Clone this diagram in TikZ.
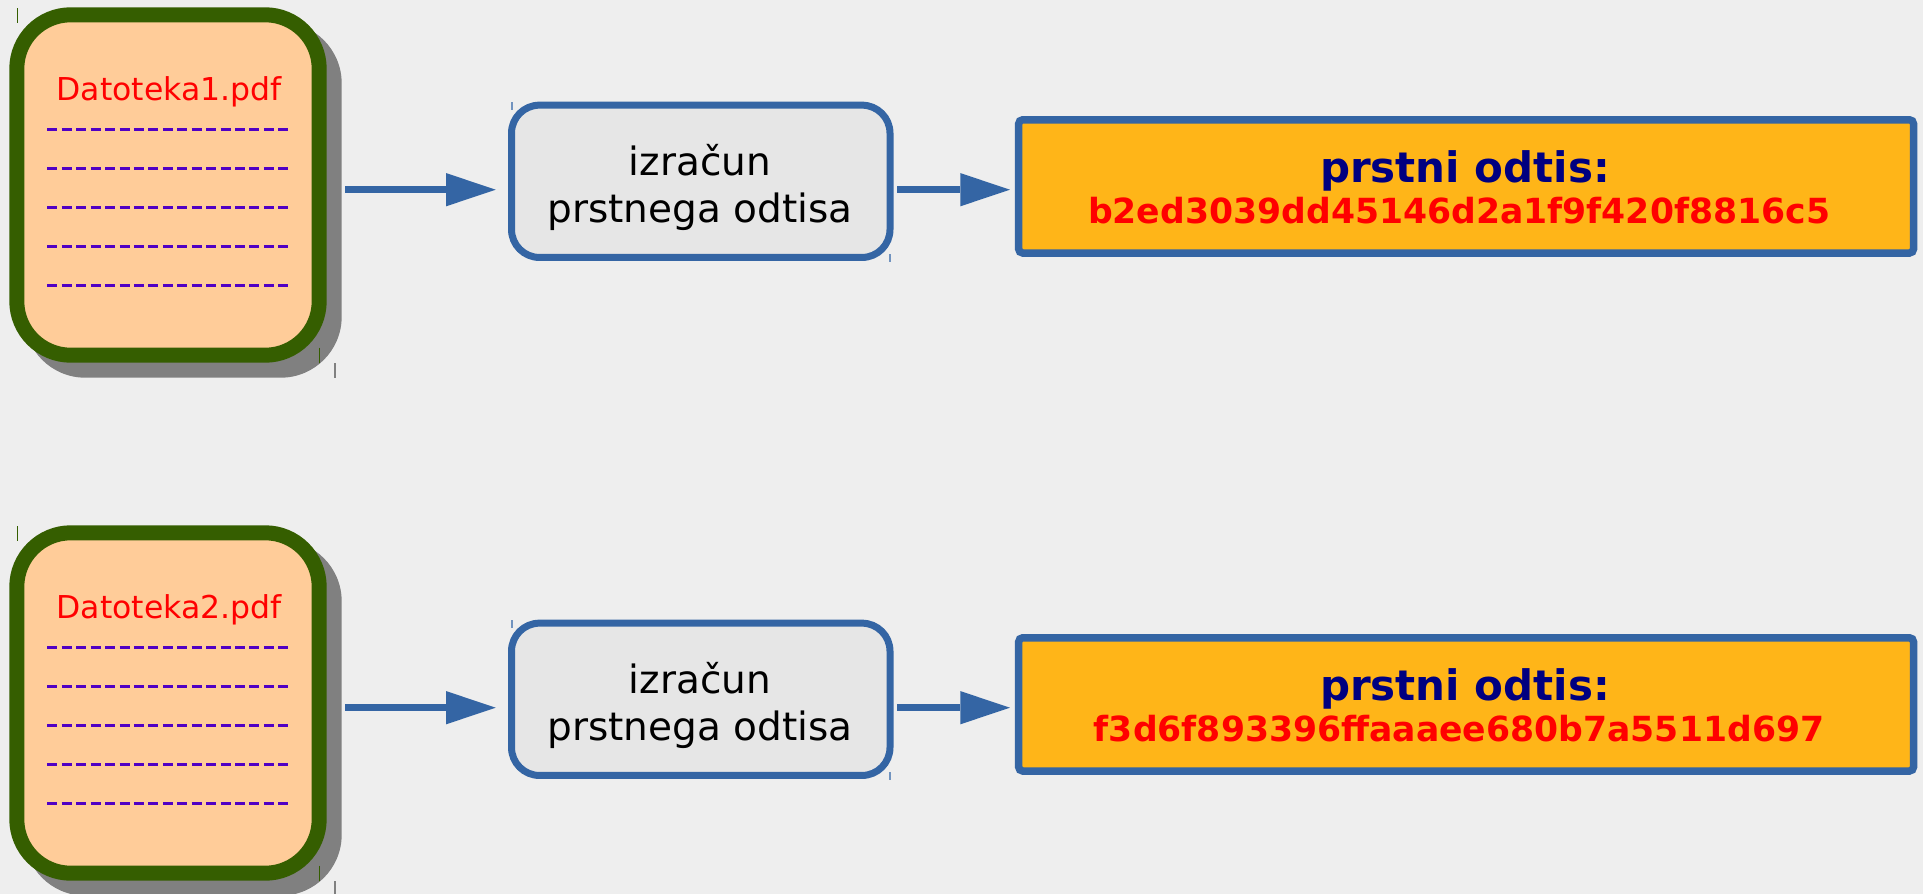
\documentclass[tikz,border=0pt]{standalone}
\usepackage{fontspec}
\setmainfont{DejaVu Sans}
\usetikzlibrary{arrows.meta,calc}
\definecolor{bgc}{HTML}{EEEEEE}
\definecolor{peach}{HTML}{FFCC99}
\definecolor{docgreen}{HTML}{355E00}
\definecolor{shadowc}{HTML}{808080}
\definecolor{dashc}{HTML}{5000C4}
\definecolor{blueb}{HTML}{3465A4}
\definecolor{procgray}{HTML}{E6E6E6}
\definecolor{goldc}{HTML}{FFB518}
\definecolor{navyc}{HTML}{000080}
\begin{document}
\begin{tikzpicture}[x=0.5pt,y=-0.5pt,
  docbox/.style={draw=docgreen, line width=7.5pt, fill=peach, rounded corners=27pt,
    minimum width=151.2pt, minimum height=170.2pt, inner sep=0pt},
  procbox/.style={draw=blueb, line width=3.5pt, fill=procgray, rounded corners=14pt,
    minimum width=189.25pt, minimum height=76.15pt, inner sep=0pt},
  resbox/.style={draw=blueb, line width=3.75pt, fill=goldc, rounded corners=2pt,
    minimum width=447.4pt, minimum height=66.6pt, inner sep=0pt},
  doctext/.style={text=red, inner sep=0pt, font=\fontsize{15.75pt}{18pt}\selectfont},
  proctext/.style={text=black, inner sep=0pt, align=center, font=\fontsize{19.5pt}{23.7pt}\selectfont},
  restitle/.style={text=navyc, inner sep=0pt, font=\fontsize{21pt}{25pt}\selectfont\bfseries},
  reshash/.style={text=red, inner sep=0pt, font=\fontsize{17.3pt}{20pt}\selectfont\bfseries},
  dashline/.style={draw=dashc, line width=1.5pt, dash pattern=on 5pt off 2.22pt},
  arr/.style={draw=blueb, line width=3.65pt, -{Triangle[length=24.85pt,width=16.65pt,line width=0pt]}},
  tickline/.style={line width=0.6pt}
]
\fill[bgc] (0,0) rectangle (1923,894);
\useasboundingbox (0,0) rectangle (1923,894);
\foreach \dy/\n/\fname/\hash in {0/1/Datoteka1.pdf/b2ed3039dd45146d2a1f9f420f8816c5, 518/2/Datoteka2.pdf/f3d6f893396ffaaaee680b7a5511d697}{
\begin{scope}[shift={(0,\dy)}]
  % shadow of document
  \fill[shadowc, rounded corners=30.5pt] (24.3,22.3) rectangle (341.7,377.7);
  % document
  \node[docbox] (d\n) at (168,185) {};
  \node[doctext, anchor=base] (f\n) at (169.2,100) {\fname};
  \foreach \k in {0,...,4}{
    \draw[dashline] (47.3,{129.5+39.05*\k}) -- (288.3,{129.5+39.05*\k});
  }
  % small marks
  \draw[tickline, docgreen] (17.3,8.3) -- (17.3,22.7);
  \draw[tickline, docgreen] (319.3,347.7) -- (319.3,362.7);
  \draw[tickline, shadowc] (335,363.3) -- (335,378.3);
  % process box
  \node[procbox] (p\n) at (700.75,181.3) {};
  \node[proctext] (t\n) at (700,187.6) {izračun\\prstnega odtisa};
  \draw[tickline, blueb!70] (512,102.3) -- (512,110);
  \draw[tickline, blueb!70] (890,254.3) -- (890,261.7);
  % result box
  \node[resbox] (r\n) at (1466.1,186.4) {};
  \node[restitle, anchor=base] (h\n) at (1465,182.7) {prstni odtis:};
  \node[reshash, anchor=base] (v\n) at (1459,223.3) {\hash};
  % arrows
  \draw[arr] ($(d\n.east)+(18.3,4.7)$) -- ($(p\n.west)+(-12.3,8.4)$);
  \draw[arr] ($(p\n.east)+(3.8,8.4)$) -- ($(r\n.west)+(-5,3.3)$);
\end{scope}
}
\end{tikzpicture}
\end{document}
